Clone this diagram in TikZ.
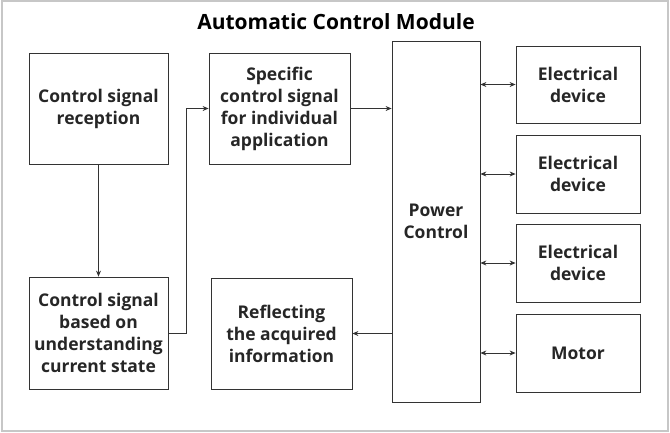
\documentclass[tikz,border=0pt]{standalone}
\usepackage{fontspec}
\setmainfont{Open Sans}
\usepackage{tikz}
\usetikzlibrary{arrows.meta}

\tikzset{
  blk/.style={draw=black!80, line width=0.8pt, rectangle, align=center,
    inner sep=0pt, font=\fontsize{17.5}{22}\selectfont\bfseries, text=black!85},
}

\begin{document}
\begin{tikzpicture}[x=1pt, y=-1pt, >={Stealth[length=6pt,width=5pt]}, line width=0.8pt, draw=black!80]

    \useasboundingbox (0,0) rectangle (670,432);
    \draw [black!22, line width=1.5pt] (2,1) rectangle (668,431);

    \node (t) at (336,22) {\fontsize{21}{24}\selectfont\bfseries Automatic Control Module};

    \node[blk, minimum width=139pt, minimum height=111pt] (a) at (98.5,108.5) {Control signal\\reception};
    \node[blk, minimum width=141pt, minimum height=111pt] (b) at (279.5,108.5) {Specific\\control signal\\for individual\\application};
    \node[blk, minimum width=139pt, minimum height=112pt] (c) at (98.5,333) {Control signal\\based on\\understanding\\current state};
    \node[blk, minimum width=141pt, minimum height=111pt] (d) at (281.5,333.5) {Reflecting\\the acquired\\information};
    \node[blk, minimum width=88pt, minimum height=361pt] (p) at (436,221.5) {Power\\Control};
    \node[blk, minimum width=124pt, minimum height=77pt] (e) at (578,84.5) {Electrical\\device};
    \node[blk, minimum width=124pt, minimum height=78pt] (f) at (578,174) {Electrical\\device};
    \node[blk, minimum width=124pt, minimum height=78pt] (g) at (578,263) {Electrical\\device};
    \node[blk, minimum width=124pt, minimum height=78pt] (m) at (578,353) {Motor};

    \draw [->] (a) to (c);
    \draw [->] (c.east) -- ([xshift=18pt]c.east) |- (b.west);
    \draw [->] (b.east) -- (b.east -| p.west);
    \draw [->] (p.west |- d.east) -- (d.east);
    \draw [<->] (p.east |- e) -- (e.west);
    \draw [<->] (p.east |- f) -- (f.west);
    \draw [<->] (p.east |- g) -- (g.west);
    \draw [<->] (p.east |- m) -- (m.west);

\end{tikzpicture}
\end{document}
